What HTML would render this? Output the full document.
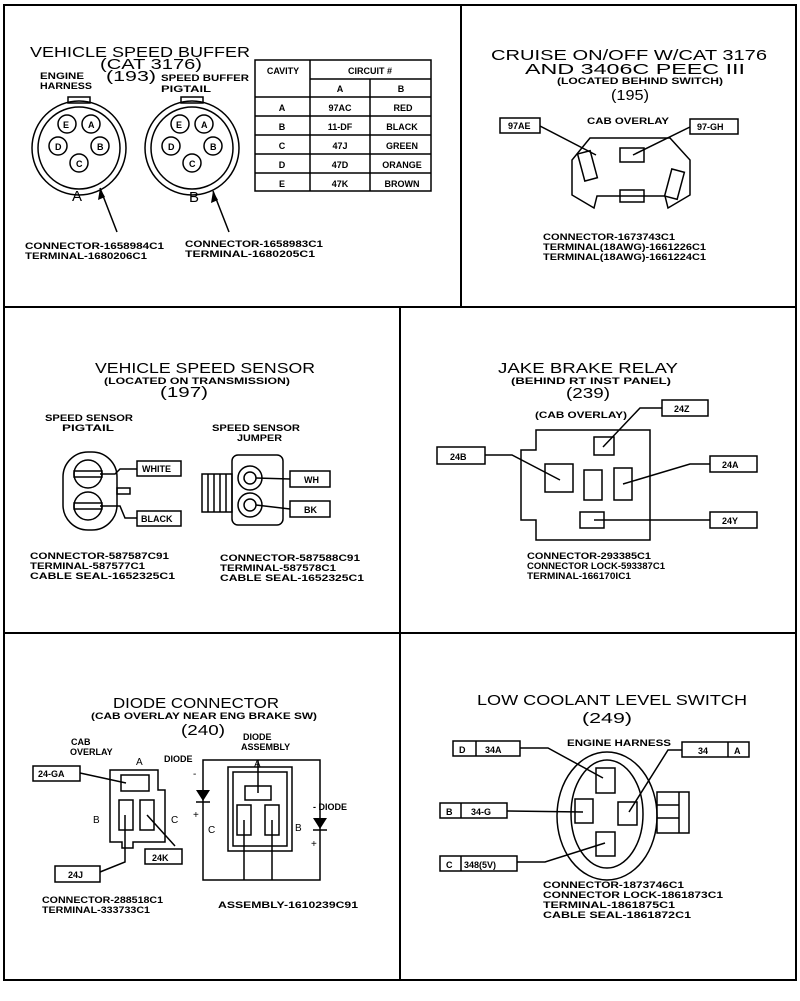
<!DOCTYPE html>
<html><head><meta charset="utf-8"><style>
html,body{margin:0;padding:0;background:#fff}
svg{display:block}
text{font-family:"Liberation Sans",sans-serif;fill:#000}
.t{font-size:15px}
.s{font-size:9px;font-weight:bold}
.m{font-size:10px}
</style></head><body>
<svg width="800" height="1001" viewBox="0 0 800 1001" xmlns="http://www.w3.org/2000/svg">
<g fill="none" stroke="#000" stroke-width="1.6">
<rect x="4" y="5" width="792" height="975" stroke-width="2"/>
<line x1="4" y1="307" x2="796" y2="307" stroke-width="2"/>
<line x1="4" y1="633" x2="796" y2="633" stroke-width="2"/>
<line x1="461" y1="5" x2="461" y2="307" stroke-width="2"/>
<line x1="400" y1="307" x2="400" y2="980" stroke-width="2"/>
</g>

<!-- Panel 1 -->
<g>
<text class="t" x="30" y="57" textLength="220" lengthAdjust="spacingAndGlyphs">VEHICLE SPEED BUFFER</text>
<text class="t" x="100" y="69" textLength="102" lengthAdjust="spacingAndGlyphs">(CAT 3176)</text>
<text class="t" x="106" y="81" textLength="50" lengthAdjust="spacingAndGlyphs">(193)</text>
<text class="s" x="40" y="79" textLength="44" lengthAdjust="spacingAndGlyphs">ENGINE</text>
<text class="s" x="40" y="89" textLength="52" lengthAdjust="spacingAndGlyphs">HARNESS</text>
<text class="s" x="161" y="81" textLength="88" lengthAdjust="spacingAndGlyphs">SPEED BUFFER</text>
<text class="s" x="161" y="92" textLength="50" lengthAdjust="spacingAndGlyphs">PIGTAIL</text>
<g fill="none" stroke="#000" stroke-width="1.5">
<circle cx="79" cy="148" r="47"/><circle cx="79" cy="148" r="41"/>
<rect x="68" y="97" width="22" height="6"/>
<circle cx="192" cy="148" r="47"/><circle cx="192" cy="148" r="41"/>
<rect x="181" y="97" width="22" height="6"/>
<circle cx="67" cy="124" r="9"/><circle cx="91" cy="124" r="9"/><circle cx="58" cy="146" r="9"/><circle cx="100" cy="146" r="9"/><circle cx="79" cy="163" r="9"/>
<circle cx="180" cy="124" r="9"/><circle cx="204" cy="124" r="9"/><circle cx="171" cy="146" r="9"/><circle cx="213" cy="146" r="9"/><circle cx="192" cy="163" r="9"/>
<line x1="117" y1="232" x2="100" y2="188"/><line x1="229" y1="232" x2="213" y2="191"/>
</g>
<path d="M100 188 l-2 12 l7 -3 z M213 191 l-2 12 l7 -3 z" fill="#000"/>
<g class="s" font-size="9">
<text class="s" x="63" y="128">E</text><text class="s" x="88" y="128">A</text><text class="s" x="55" y="150">D</text><text class="s" x="97" y="150">B</text><text class="s" x="76" y="167">C</text>
<text class="s" x="176" y="128">E</text><text class="s" x="201" y="128">A</text><text class="s" x="168" y="150">D</text><text class="s" x="210" y="150">B</text><text class="s" x="189" y="167">C</text>
</g>
<text class="t" x="72" y="201">A</text><text class="t" x="189" y="202">B</text>
<text class="s" x="25" y="249" textLength="139" lengthAdjust="spacingAndGlyphs">CONNECTOR-1658984C1</text>
<text class="s" x="25" y="259" textLength="122" lengthAdjust="spacingAndGlyphs">TERMINAL-1680206C1</text>
<text class="s" x="185" y="247" textLength="138" lengthAdjust="spacingAndGlyphs">CONNECTOR-1658983C1</text>
<text class="s" x="185" y="257" textLength="130" lengthAdjust="spacingAndGlyphs">TERMINAL-1680205C1</text>
<g>
<g fill="none" stroke="#000" stroke-width="1.5">
<rect x="255" y="60" width="176" height="131"/>
<line x1="310" y1="60" x2="310" y2="191"/><line x1="370" y1="79" x2="370" y2="191"/>
<line x1="310" y1="79" x2="431" y2="79"/>
<line x1="255" y1="97" x2="431" y2="97"/><line x1="255" y1="116" x2="431" y2="116"/><line x1="255" y1="135" x2="431" y2="135"/><line x1="255" y1="154" x2="431" y2="154"/><line x1="255" y1="173" x2="431" y2="173"/>
</g>
<g class="s" text-anchor="middle">
<text class="s" x="283" y="74">CAVITY</text><text class="s" x="370" y="74">CIRCUIT #</text>
<text class="s" x="340" y="92">A</text><text class="s" x="401" y="92">B</text>
<text class="s" x="282" y="111">A</text><text class="s" x="340" y="111">97AC</text><text class="s" x="403" y="111">RED</text>
<text class="s" x="282" y="130">B</text><text class="s" x="340" y="130">11-DF</text><text class="s" x="402" y="130">BLACK</text>
<text class="s" x="282" y="149">C</text><text class="s" x="340" y="149">47J</text><text class="s" x="402" y="149">GREEN</text>
<text class="s" x="282" y="168">D</text><text class="s" x="340" y="168">47D</text><text class="s" x="402" y="168">ORANGE</text>
<text class="s" x="282" y="187">E</text><text class="s" x="340" y="187">47K</text><text class="s" x="402" y="187">BROWN</text>
</g></g>
</g>

<!-- Panel 2 -->
<g>
<text class="t" x="491" y="60" textLength="276" lengthAdjust="spacingAndGlyphs">CRUISE ON/OFF W/CAT 3176</text>
<text class="t" x="525" y="74" textLength="220" lengthAdjust="spacingAndGlyphs">AND 3406C PEEC III</text>
<text class="s" x="557" y="84" textLength="166" lengthAdjust="spacingAndGlyphs">(LOCATED BEHIND SWITCH)</text>
<text class="t" x="611" y="100" textLength="38" lengthAdjust="spacingAndGlyphs">(195)</text>
<text class="s" x="587" y="124" textLength="82" lengthAdjust="spacingAndGlyphs">CAB OVERLAY</text>
<g fill="none" stroke="#000" stroke-width="1.5">
<rect x="500" y="118" width="40" height="15"/><rect x="690" y="119" width="48" height="15"/>
<path d="M590 138 L670 138 L690 160 L690 195 L668 208 L665 196 L597 196 L594 208 L572 195 L572 160 Z"/>
<rect x="581" y="152" width="13" height="28" transform="rotate(-15 587 166)"/>
<rect x="668" y="170" width="13" height="28" transform="rotate(15 674 184)"/>
<rect x="620" y="148" width="24" height="14"/><rect x="620" y="190" width="24" height="12"/>
<line x1="540" y1="126" x2="596" y2="155"/><line x1="690" y1="127" x2="633" y2="155"/>
</g>
<text class="s" x="508" y="129">97AE</text><text class="s" x="697" y="130">97-GH</text>
<text class="s" x="543" y="240" textLength="132" lengthAdjust="spacingAndGlyphs">CONNECTOR-1673743C1</text>
<text class="s" x="543" y="250" textLength="163" lengthAdjust="spacingAndGlyphs">TERMINAL(18AWG)-1661226C1</text>
<text class="s" x="543" y="260" textLength="163" lengthAdjust="spacingAndGlyphs">TERMINAL(18AWG)-1661224C1</text>
</g>

<!-- Panel 3 -->
<g>
<text class="t" x="95" y="373" textLength="220" lengthAdjust="spacingAndGlyphs">VEHICLE SPEED SENSOR</text>
<text class="s" x="104" y="384" textLength="186" lengthAdjust="spacingAndGlyphs">(LOCATED ON TRANSMISSION)</text>
<text class="t" x="160" y="397" textLength="48" lengthAdjust="spacingAndGlyphs">(197)</text>
<text class="s" x="45" y="421" textLength="88" lengthAdjust="spacingAndGlyphs">SPEED SENSOR</text>
<text class="s" x="62" y="431" textLength="52" lengthAdjust="spacingAndGlyphs">PIGTAIL</text>
<text class="s" x="212" y="431" textLength="88" lengthAdjust="spacingAndGlyphs">SPEED SENSOR</text>
<text class="s" x="237" y="441" textLength="45" lengthAdjust="spacingAndGlyphs">JUMPER</text>
<g fill="none" stroke="#000" stroke-width="1.5">
<rect x="63" y="452" width="54" height="78" rx="25"/>
<rect x="117" y="488" width="13" height="6"/>
<circle cx="88" cy="474" r="14"/><circle cx="88" cy="506" r="14"/>
<rect x="74" y="471" width="28" height="6"/><rect x="74" y="503" width="28" height="6"/>
<rect x="137" y="461" width="44" height="15"/><rect x="137" y="511" width="44" height="15"/>
<path d="M100 474 L115 474 L120 469 L137 469"/><path d="M100 506 L120 506 L125 518 L137 518"/>
<rect x="232" y="455" width="51" height="70" rx="6"/>
<rect x="202" y="474" width="30" height="38"/>
<line x1="208" y1="474" x2="208" y2="512"/><line x1="214" y1="474" x2="214" y2="512"/><line x1="220" y1="474" x2="220" y2="512"/><line x1="226" y1="474" x2="226" y2="512"/>
<circle cx="250" cy="478" r="12"/><circle cx="250" cy="505" r="12"/>
<circle cx="250" cy="478" r="6"/><circle cx="250" cy="505" r="6"/>
<rect x="290" y="471" width="40" height="16"/><rect x="290" y="501" width="40" height="16"/>
<line x1="256" y1="478" x2="290" y2="479"/><line x1="256" y1="505" x2="290" y2="509"/>
</g>
<text class="s" x="142" y="472">WHITE</text><text class="s" x="141" y="522">BLACK</text>
<text class="s" x="304" y="483">WH</text><text class="s" x="304" y="513">BK</text>
<text class="s" x="30" y="559" textLength="139" lengthAdjust="spacingAndGlyphs">CONNECTOR-587587C91</text>
<text class="s" x="30" y="569" textLength="115" lengthAdjust="spacingAndGlyphs">TERMINAL-587577C1</text>
<text class="s" x="30" y="579" textLength="145" lengthAdjust="spacingAndGlyphs">CABLE SEAL-1652325C1</text>
<text class="s" x="220" y="561" textLength="140" lengthAdjust="spacingAndGlyphs">CONNECTOR-587588C91</text>
<text class="s" x="220" y="571" textLength="116" lengthAdjust="spacingAndGlyphs">TERMINAL-587578C1</text>
<text class="s" x="220" y="581" textLength="144" lengthAdjust="spacingAndGlyphs">CABLE SEAL-1652325C1</text>
</g>

<!-- Panel 4 -->
<g>
<text class="t" x="498" y="373" textLength="180" lengthAdjust="spacingAndGlyphs">JAKE BRAKE RELAY</text>
<text class="s" x="511" y="384" textLength="160" lengthAdjust="spacingAndGlyphs">(BEHIND RT INST PANEL)</text>
<text class="t" x="566" y="398" textLength="44" lengthAdjust="spacingAndGlyphs">(239)</text>
<text class="s" x="535" y="418" textLength="92" lengthAdjust="spacingAndGlyphs">(CAB OVERLAY)</text>
<g fill="none" stroke="#000" stroke-width="1.5">
<rect x="662" y="400" width="46" height="16"/><rect x="710" y="456" width="47" height="16"/>
<rect x="437" y="447" width="48" height="17"/><rect x="710" y="512" width="47" height="16"/>
<path d="M536 430 L650 430 L650 540 L536 540 L536 520 L521 520 L521 450 L536 450 Z"/>
<rect x="594" y="437" width="20" height="18"/>
<rect x="545" y="464" width="28" height="28"/>
<rect x="584" y="470" width="18" height="30"/>
<rect x="614" y="468" width="18" height="32"/>
<rect x="580" y="512" width="24" height="16"/>
<path d="M662 408 L640 408 L603 447"/><path d="M485 455 L512 455 L560 480"/>
<path d="M710 464 L690 464 L623 484"/><path d="M710 520 L594 520"/>
</g>
<text class="s" x="674" y="412">24Z</text><text class="s" x="722" y="468">24A</text>
<text class="s" x="450" y="460">24B</text><text class="s" x="722" y="524">24Y</text>
<text class="s" x="527" y="559" textLength="124" lengthAdjust="spacingAndGlyphs">CONNECTOR-293385C1</text>
<text class="s" x="527" y="569" textLength="138" lengthAdjust="spacingAndGlyphs">CONNECTOR LOCK-593387C1</text>
<text class="s" x="527" y="579" textLength="104" lengthAdjust="spacingAndGlyphs">TERMINAL-166170IC1</text>
</g>

<!-- Panel 5 -->
<g>
<text class="t" x="113" y="708" textLength="166" lengthAdjust="spacingAndGlyphs">DIODE CONNECTOR</text>
<text class="s" x="91" y="719" textLength="226" lengthAdjust="spacingAndGlyphs">(CAB OVERLAY NEAR ENG BRAKE SW)</text>
<text class="t" x="181" y="735" textLength="44" lengthAdjust="spacingAndGlyphs">(240)</text>
<text class="s" x="71" y="745">CAB</text><text class="s" x="70" y="755">OVERLAY</text>
<text class="s" x="243" y="740">DIODE</text><text class="s" x="241" y="750">ASSEMBLY</text>
<text class="m" x="136" y="765">A</text><text class="m" x="254" y="767">A</text>
<text class="s" x="164" y="762">DIODE</text>
<text class="m" x="93" y="823">B</text><text class="m" x="171" y="823">C</text>
<text class="m" x="208" y="833">C</text><text class="m" x="295" y="831">B</text>
<text class="s" x="313" y="810">- DIODE</text>
<text class="m" x="193" y="777">-</text><text class="m" x="193" y="818">+</text><text class="m" x="311" y="847">+</text>
<g fill="none" stroke="#000" stroke-width="1.5">
<rect x="33" y="766" width="47" height="15"/><rect x="145" y="849" width="37" height="15"/><rect x="55" y="866" width="45" height="16"/>
<path d="M110 770 L158 770 L158 790 L165 790 L165 842 L133 842 L133 848 L122 848 L122 842 L110 842 Z"/>
<rect x="121" y="775" width="28" height="16"/>
<rect x="119" y="800" width="14" height="30"/><rect x="140" y="800" width="14" height="30"/>
<path d="M80 773 L126 783"/><path d="M125 815 L125 862 L100 872"/><path d="M147 815 L175 846"/>
<path d="M203 760 L320 760 L320 880 L203 880 Z"/>
<rect x="228" y="767" width="64" height="84"/>
<rect x="233" y="772" width="54" height="74"/>
<rect x="245" y="786" width="26" height="14"/>
<rect x="237" y="805" width="14" height="30"/><rect x="265" y="805" width="14" height="30"/>
<path d="M258 793 L258 760"/><path d="M244 820 L244 880"/><path d="M272 820 L272 880"/>
</g>
<path d="M196 790 L210 790 L203 801 Z M313 818 L327 818 L320 829 Z" fill="#000"/>
<path d="M196 802 L210 802 M313 830 L327 830" stroke="#000" stroke-width="1.5"/>
<text class="s" x="38" y="777">24-GA</text><text class="s" x="152" y="861">24K</text><text class="s" x="68" y="878">24J</text>
<text class="s" x="42" y="903" textLength="121" lengthAdjust="spacingAndGlyphs">CONNECTOR-288518C1</text>
<text class="s" x="42" y="913" textLength="108" lengthAdjust="spacingAndGlyphs">TERMINAL-333733C1</text>
<text class="s" x="218" y="908" textLength="140" lengthAdjust="spacingAndGlyphs">ASSEMBLY-1610239C91</text>
</g>

<!-- Panel 6 -->
<g>
<text class="t" x="477" y="705" textLength="270" lengthAdjust="spacingAndGlyphs">LOW COOLANT LEVEL SWITCH</text>
<text class="t" x="582" y="723" textLength="50" lengthAdjust="spacingAndGlyphs">(249)</text>
<text class="s" x="567" y="746" textLength="104" lengthAdjust="spacingAndGlyphs">ENGINE HARNESS</text>
<g fill="none" stroke="#000" stroke-width="1.5">
<ellipse cx="607" cy="816" rx="50" ry="64"/><ellipse cx="607" cy="814" rx="36" ry="54"/>
<rect x="596" y="768" width="19" height="25"/><rect x="575" y="799" width="18" height="24"/>
<rect x="618" y="802" width="19" height="23"/><rect x="596" y="832" width="19" height="24"/>
<rect x="657" y="792" width="32" height="41"/><line x1="657" y1="805" x2="679" y2="805"/><line x1="657" y1="818" x2="679" y2="818"/><line x1="679" y1="792" x2="679" y2="833"/>
<rect x="453" y="741" width="67" height="15"/><line x1="476" y1="741" x2="476" y2="756"/>
<rect x="682" y="742" width="67" height="15"/><line x1="728" y1="742" x2="728" y2="757"/>
<rect x="440" y="803" width="67" height="15"/><line x1="461" y1="803" x2="461" y2="818"/>
<rect x="440" y="856" width="77" height="15"/><line x1="461" y1="856" x2="461" y2="871"/>
<path d="M520 748 L548 748 L603 778"/><path d="M682 750 L668 750 L629 812"/>
<path d="M507 811 L583 812"/><path d="M517 862 L545 862 L605 843"/>
</g>
<text class="s" x="459" y="753">D</text><text class="s" x="485" y="753">34A</text>
<text class="s" x="698" y="754">34</text><text class="s" x="734" y="754">A</text>
<text class="s" x="446" y="815">B</text><text class="s" x="471" y="815">34-G</text>
<text class="s" x="446" y="868">C</text><text class="s" x="464" y="868">348(5V)</text>
<text class="s" x="543" y="888" textLength="141" lengthAdjust="spacingAndGlyphs">CONNECTOR-1873746C1</text>
<text class="s" x="543" y="898" textLength="180" lengthAdjust="spacingAndGlyphs">CONNECTOR LOCK-1861873C1</text>
<text class="s" x="543" y="908" textLength="132" lengthAdjust="spacingAndGlyphs">TERMINAL-1861875C1</text>
<text class="s" x="543" y="918" textLength="148" lengthAdjust="spacingAndGlyphs">CABLE SEAL-1861872C1</text>
</g>
</svg>
</body></html>
